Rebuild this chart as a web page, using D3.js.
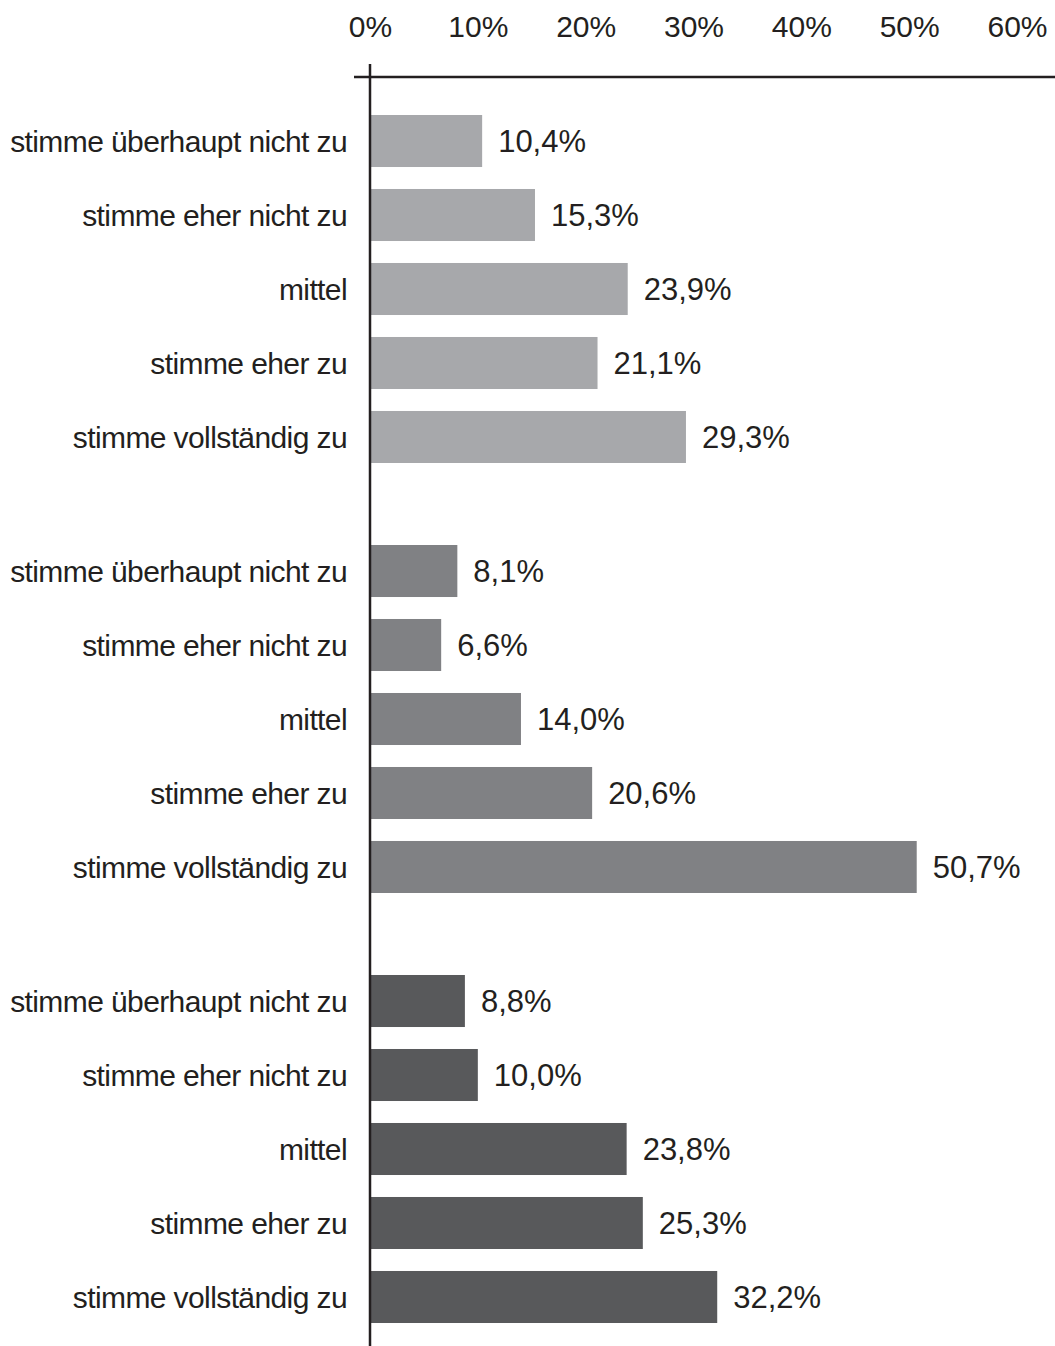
<!DOCTYPE html>
<html>
<head>
<meta charset="utf-8">
<script src="https://cdn.jsdelivr.net/npm/d3@7"></script>
<style>
  body { margin: 0; background: #fff; }
  svg text { font-family: "Liberation Sans", Arial, sans-serif; fill: #231f20; }
</style>
</head>
<body>
<svg id="chart"></svg>
<script>
var categories = ["stimme überhaupt nicht zu", "stimme eher nicht zu", "mittel", "stimme eher zu", "stimme vollständig zu"];
var groups = ["g1", "g2", "g3"];
var group1 = [10.4, 15.3, 23.9, 21.1, 29.3];
var group2 = [8.1, 6.6, 14.0, 20.6, 50.7];
var group3 = [8.8, 10.0, 23.8, 25.3, 32.2];
var tickValues = [0, 10, 20, 30, 40, 50, 60];
var groupColors = ["#a7a8ab", "#808184", "#58595b"];

var width = 1055, height = 1346;
var svg = d3.select("#chart").attr("width", width).attr("height", height);

var seriesList = [group1, group2, group3];
var data = [];
seriesList.forEach(function(vals, gi) {
  vals.forEach(function(v, ci) {
    data.push({group: groups[gi], gi: gi, cat: categories[ci], value: v});
  });
});

var x = d3.scaleLinear().domain([0, 60]).range([370, 1017]);

var yGroup = d3.scaleBand().domain(groups).range([104, 1334]).paddingInner(60 / 430);
var yCat = d3.scaleBand().domain(categories).range([0, yGroup.bandwidth()])
  .paddingInner(0.297).paddingOuter(0.1486);

function yPos(d) { return yGroup(d.group) + yCat(d.cat); }

// bars
svg.append("g").selectAll("rect")
  .data(data)
  .enter().append("rect")
    .attr("x", x(0))
    .attr("y", yPos)
    .attr("width", function(d) { return x(d.value) - x(0); })
    .attr("height", yCat.bandwidth())
    .attr("fill", function(d) { return groupColors[d.gi]; });

// value labels
svg.append("g").selectAll("text")
  .data(data)
  .enter().append("text")
    .attr("x", function(d) { return x(d.value) + 16; })
    .attr("y", function(d) { return yPos(d) + yCat.bandwidth() / 2; })
    .attr("dy", "0.36em")
    .style("font-size", "31px")
    .text(function(d) { return d.value.toFixed(1).replace(".", ",") + "%"; });

// category labels
svg.append("g").selectAll("text")
  .data(data)
  .enter().append("text")
    .attr("x", 347)
    .attr("y", function(d) { return yPos(d) + yCat.bandwidth() / 2; })
    .attr("dy", "0.36em")
    .attr("text-anchor", "end")
    .style("font-size", "30px")
    .style("letter-spacing", "-0.6px")
    .text(function(d) { return d.cat; });

// top axis
var axisY = 77;
var xAxis = svg.append("g")
  .attr("transform", "translate(0," + axisY + ")")
  .call(d3.axisTop(x).tickValues(tickValues).tickSize(0).tickPadding(40)
    .tickFormat(function(d) { return d + "%"; }));
xAxis.select(".domain").remove();
xAxis.selectAll("text")
  .style("font-size", "30px")
  .style("font-family", "'Liberation Sans', Arial, sans-serif")
  .attr("fill", "#231f20");

svg.append("line")
  .attr("x1", 354).attr("x2", width)
  .attr("y1", axisY).attr("y2", axisY)
  .attr("stroke", "#231f20").attr("stroke-width", 2.5);

svg.append("line")
  .attr("x1", x(0)).attr("x2", x(0))
  .attr("y1", 64).attr("y2", height)
  .attr("stroke", "#231f20").attr("stroke-width", 2.5);
</script>
</body>
</html>
